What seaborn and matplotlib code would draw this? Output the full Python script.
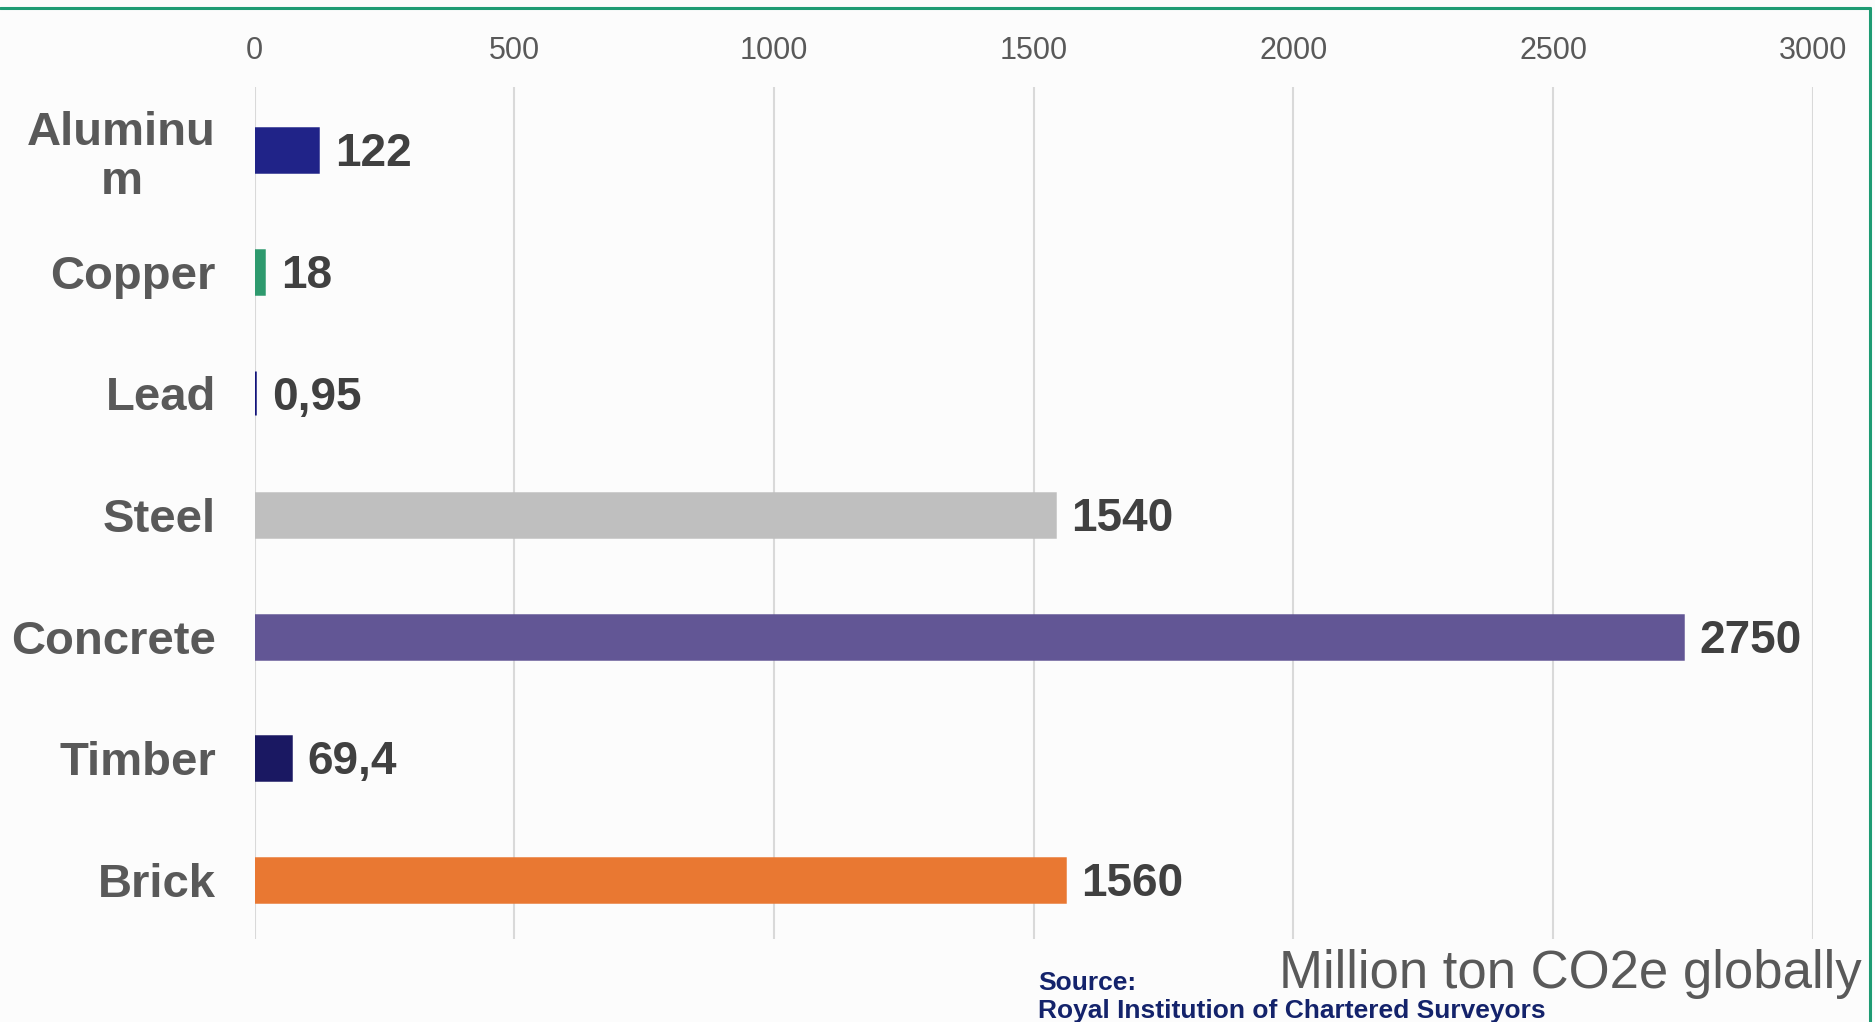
import matplotlib
matplotlib.use("Agg")
import matplotlib.pyplot as plt
import seaborn as sns
import pandas as pd
from matplotlib.lines import Line2D

materials = ["Aluminu\nm", "Copper", "Lead", "Steel", "Concrete", "Timber", "Brick"]
emissions = [122, 18, 0.95, 1540, 2750, 69.4, 1560]
value_labels = ["122", "18", "0,95", "1540", "2750", "69,4", "1560"]
bar_colors = ["#202388", "#2E9A6E", "#12137A", "#BFBFBF", "#625695", "#1A1862", "#E97832"]
x_ticks = [0, 500, 1000, 1500, 2000, 2500, 3000]
unit_text = "Million ton CO2e globally"
source_head = "Source:"
source_name = "Royal Institution of Chartered Surveyors"

df = pd.DataFrame({"material": materials, "value": emissions})

sns.set_style("white")
plt.rcParams["font.family"] = ["Liberation Sans", "DejaVu Sans"]

W, H = 1875, 1022
fig = plt.figure(figsize=(W / 100, H / 100), dpi=100, facecolor="#FCFCFC")
ax = fig.add_axes([254.8 / W, 1 - 939 / H, (1812.7 - 254.8) / W, (939 - 87) / H])
ax.set_facecolor("#FCFCFC")

sns.barplot(data=df, y="material", x="value", hue="material",
            palette=bar_colors, orient="h", width=0.362, legend=False,
            ax=ax, saturation=1, linewidth=0)

for p in ax.patches:
    p.set_edgecolor(p.get_facecolor())
    p.set_linewidth(1.8)

ax.set_xlim(0, 3000)
ax.set_ylim(6.485, -0.518)
ax.set_xticks(x_ticks)
ax.xaxis.tick_top()
ax.tick_params(axis="x", length=0, pad=15, labelsize=22, labelcolor="#595959")
ax.tick_params(axis="y", length=0, pad=28, labelsize=34, labelcolor="#595959")
for lbl in ax.get_yticklabels():
    lbl.set_fontweight("bold")
    lbl.set_multialignment("center")
    lbl.set_linespacing(1.15)
ax.set_xlabel("")
ax.set_ylabel("")
ax.grid(axis="x", color="#D9D9D9", linewidth=1.5)
ax.set_axisbelow(True)
for s in ax.spines.values():
    s.set_visible(False)

for i, cont in enumerate(ax.containers):
    texts = ax.bar_label(cont, labels=[value_labels[i]], padding=12, fontsize=33,
                         fontweight="bold", color="#404040")
    for t in texts:
        t.xyann = (12, -3)

fig.text(1862 / W, 1 - 988 / H, unit_text, ha="right", va="baseline",
         fontsize=38, color="#595959")
fig.text(1038 / W, 1 - 990 / H, source_head, ha="left", va="baseline",
         fontsize=19, fontweight="bold", color="#14236B")
fig.text(1038 / W, 1 - 1018 / H, source_name, ha="left", va="baseline",
         fontsize=19, fontweight="bold", color="#14236B")

fig.add_artist(Line2D([0, 1870 / W], [1 - 8 / H, 1 - 8 / H], color="#1E9B73",
                      linewidth=2.2, transform=fig.transFigure))
fig.add_artist(Line2D([1870 / W, 1870 / W], [0, 1 - 8 / H], color="#1E9B73",
                      linewidth=2.2, transform=fig.transFigure))

fig.savefig("out.png", dpi=100, facecolor=fig.get_facecolor())
